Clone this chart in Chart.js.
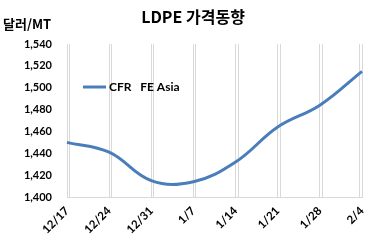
<!DOCTYPE html>
<html><head><meta charset="utf-8">
<script src="https://cdn.jsdelivr.net/npm/chart.js@4"></script>
<style>html,body{margin:0;padding:0;background:#fff}#w{width:368px;height:247px}</style>
</head><body><div id="w"><canvas id="c"></canvas></div>
<script>
const categories = ['12/17','12/24','12/31','1/7','1/14','1/21','1/28','2/4'];
const seriesName = 'CFR   FE Asia';
const values = [1450, 1441, 1415, 1414, 1432, 1464, 1484, 1515];
const chartTitle = 'LDPE 가격동향';
const unitLabel = '달러/MT';
const yMin = 1400, yMax = 1540, yStep = 20;

const FONT = "Lato, 'Noto Sans CJK KR', sans-serif";
const KFONT = "'Noto Sans CJK KR', Lato, sans-serif";
const color = '#4a7ebb';
const gridColor = '#d9d9d9';

const overlay = {
  id: 'overlay',
  beforeDatasetsDraw(chart) {
    const ctx = chart.ctx, ca = chart.chartArea, xs = chart.scales.x;
    const n = categories.length;
    ctx.save();
    ctx.strokeStyle = gridColor;
    ctx.lineWidth = 1;
    for (let i = 0; i < n; i++) {
      const x = Math.round(xs.getPixelForValue(i) + (i === n - 1 ? -3 : 2)) + 0.5;
      ctx.beginPath(); ctx.moveTo(x, ca.top); ctx.lineTo(x, ca.bottom); ctx.stroke();
    }
    ctx.restore();
  },
  afterDraw(chart) {
    const ctx = chart.ctx;
    ctx.save();
    ctx.fillStyle = '#000';
    ctx.textBaseline = 'middle';
    ctx.font = "bold 16px " + KFONT;
    ctx.textAlign = 'center';
    ctx.fillText(chartTitle, 193, 17);
    ctx.font = "bold 13px " + KFONT;
    ctx.textAlign = 'left';
    ctx.fillText(unitLabel, 3, 24);
    const ds = chart.data.datasets[0];
    ctx.strokeStyle = ds.borderColor;
    ctx.lineWidth = 3;
    ctx.beginPath();
    ctx.moveTo(83, 87); ctx.lineTo(106, 87); ctx.stroke();
    ctx.font = "bold 12px " + FONT;
    ctx.fillStyle = '#000';
    ctx.fillText(ds.label, 109, 87);
    ctx.restore();
  }
};

new Chart(document.getElementById('c'), {
  type: 'line',
  data: {
    labels: categories,
    datasets: [{
      label: seriesName,
      data: values,
      borderColor: color,
      backgroundColor: color,
      borderWidth: 3,
      pointRadius: 0,
      tension: 0.4,
      fill: false
    }]
  },
  options: {
    responsive: true,
    maintainAspectRatio: false,
    animation: false,
    layout: { padding: { top: 44, right: 6, left: 0, bottom: 0 } },
    plugins: { legend: { display: false }, title: { display: false }, tooltip: { enabled: false } },
    scales: {
      x: {
        offset: false,
        grid: { display: true, color: gridColor, lineWidth: 1, drawTicks: false },
        border: { display: true, color: gridColor },
        ticks: {
          color: '#000',
          font: { family: FONT, size: 11.5, weight: 'bold' },
          maxRotation: 45, minRotation: 45,
          padding: 7,
          autoSkip: false
        },
        afterFit(scale) { scale.height = 50; scale.paddingRight = 0; scale.paddingLeft = 0; }
      },
      y: {
        min: yMin, max: yMax,
        grid: { display: false, drawTicks: false },
        border: { display: false },
        ticks: {
          stepSize: yStep,
          color: '#000',
          padding: 15,
          font: { family: FONT, size: 11, weight: 'bold' },
          callback: v => v.toLocaleString('en-US')
        },
        afterFit(scale) { scale.width = 67; }
      }
    }
  },
  plugins: [overlay]
});
</script>
</body></html>
